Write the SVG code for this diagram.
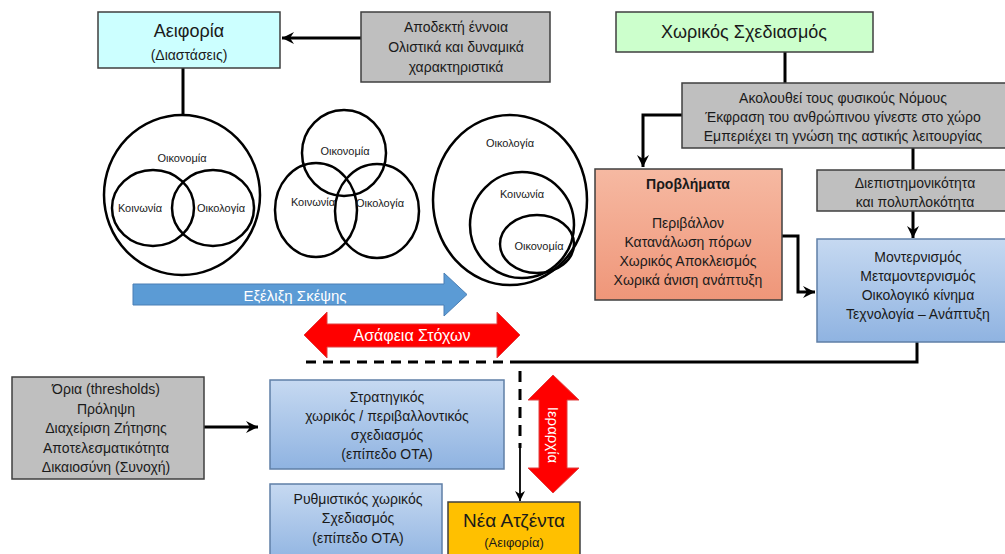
<svg xmlns="http://www.w3.org/2000/svg" width="1005" height="554" viewBox="0 0 1005 554">
<defs>
<linearGradient id="gBlue" x1="0" y1="0" x2="0" y2="1"><stop offset="0" stop-color="#c6d9f1"/><stop offset="1" stop-color="#8fb3e1"/></linearGradient>
<linearGradient id="gSalmon" x1="0" y1="0" x2="0" y2="1"><stop offset="0" stop-color="#f6b9a2"/><stop offset="1" stop-color="#ef9679"/></linearGradient>
<marker id="arr" markerUnits="userSpaceOnUse" markerWidth="14" markerHeight="14" refX="12" refY="6" orient="auto"><path d="M0,0 L12,6 L0,12 L4,6 Z" fill="#000"/></marker>
<marker id="arrS" markerUnits="userSpaceOnUse" markerWidth="12" markerHeight="12" refX="10" refY="5" orient="auto"><path d="M0,0 L10,5 L0,10 L3,5 Z" fill="#000"/></marker>
</defs>
<style>
text{font-family:"Liberation Sans",Arial,sans-serif;fill:#1a1a1a;text-anchor:middle}
.box{stroke:#3f3f3f;stroke-width:1.5}
.gray{fill:#bfbfbf}
.blue{fill:url(#gBlue);stroke:#5f7fa6}
.t14{font-size:14px}
.t11{font-size:11px}
.c{fill:none;stroke:#000;stroke-width:2.5}
.ln{fill:none;stroke:#000;stroke-width:3}
</style>
<rect width="1005" height="554" fill="#fff"/>

<g id="connectors">
<line class="ln" x1="361" y1="38" x2="282" y2="38" marker-end="url(#arr)"/>
<line class="ln" x1="183" y1="68" x2="183" y2="116"/>
<line class="ln" x1="785" y1="52" x2="785" y2="83"/>
<polyline class="ln" points="682,115 643,115 643,167" marker-end="url(#arr)"/>
<line class="ln" x1="913" y1="148" x2="913" y2="170"/>
<line class="ln" x1="913" y1="211" x2="913" y2="238" marker-end="url(#arr)"/>
<polyline class="ln" points="782,236 798,236 798,292 815,292" marker-end="url(#arr)"/>
<polyline class="ln" points="917,342 917,362 520,362"/>
<line class="ln" x1="520" y1="362" x2="304" y2="362" stroke-dasharray="10,7"/>
<line class="ln" x1="520" y1="371" x2="520" y2="448" stroke-dasharray="11,7"/>
<line x1="520" y1="446" x2="520" y2="501" stroke="#000" stroke-width="1.8" marker-end="url(#arrS)"/>
<line class="ln" x1="204" y1="427" x2="258" y2="427" marker-end="url(#arr)"/>
</g>

<g id="aeiforia">
<rect class="box" x="98" y="12" width="182" height="56" fill="#ccffff"/>
<text x="189" y="37" style="font-size:18px">Αειφορία</text>
<text x="189" y="60" style="font-size:14px">(Διαστάσεις)</text>
</g>

<g id="apodekti">
<rect class="box gray" x="361" y="12" width="189" height="70"/>
<text class="t14" x="456" y="32">Αποδεκτή έννοια</text>
<text class="t14" x="456" y="52">Ολιστικά και δυναμικά</text>
<text class="t14" x="456" y="72">χαρακτηριστικά</text>
</g>

<g id="xorikos">
<rect class="box" x="616" y="12" width="257" height="40" fill="#ccffcc"/>
<text x="744" y="38" style="font-size:18px">Χωρικός Σχεδιασμός</text>
</g>

<g id="akolouthei">
<rect class="box gray" x="682" y="83" width="324" height="65"/>
<text class="t14" x="843" y="103">Ακολουθεί τους φυσικούς Νόμους</text>
<text class="t14" x="843" y="122">Έκφραση του ανθρώπινου γίνεστε στο χώρο</text>
<text class="t14" x="843" y="141">Εμπεριέχει τη γνώση της αστικής λειτουργίας</text>
</g>

<g id="provlimata">
<rect class="box" x="595" y="169" width="187" height="131" fill="url(#gSalmon)"/>
<text class="t14" x="688" y="189" style="font-weight:bold">Προβλήματα</text>
<text class="t14" x="688" y="228">Περιβάλλον</text>
<text class="t14" x="688" y="247">Κατανάλωση πόρων</text>
<text class="t14" x="688" y="266">Χωρικός Αποκλεισμός</text>
<text class="t14" x="688" y="285">Χωρικά άνιση ανάπτυξη</text>
</g>

<g id="diepistimonikotita">
<rect class="box gray" x="817" y="170" width="189" height="41"/>
<text class="t14" x="915" y="188">Διεπιστημονικότητα</text>
<text class="t14" x="915" y="207">και πολυπλοκότητα</text>
</g>

<g id="monternismos">
<rect class="box blue" x="817" y="239" width="189" height="103"/>
<text class="t14" x="918" y="262">Μοντερνισμός</text>
<text class="t14" x="918" y="281">Μεταμοντερνισμός</text>
<text class="t14" x="918" y="300">Οικολογικό κίνημα</text>
<text class="t14" x="918" y="319">Τεχνολογία – Ανάπτυξη</text>
</g>

<g id="circles1">
<ellipse class="c" cx="182" cy="195" rx="78" ry="80"/>
<ellipse class="c" cx="153" cy="208" rx="41" ry="38"/>
<ellipse class="c" cx="213" cy="208" rx="41" ry="38"/>
<text class="t11" x="182" y="162">Οικονομία</text>
<text class="t11" x="140" y="212">Κοινωνία</text>
<text class="t11" x="221" y="212">Οικολογία</text>
</g>

<g id="circles2">
<ellipse class="c" cx="344" cy="153" rx="42" ry="43"/>
<ellipse class="c" cx="316" cy="210" rx="41" ry="47"/>
<ellipse class="c" cx="377" cy="211" rx="42" ry="47"/>
<text class="t11" x="345" y="155">Οικονομία</text>
<text class="t11" x="313" y="206">Κοινωνία</text>
<text class="t11" x="380" y="207">Οικολογία</text>
</g>

<g id="circles3">
<ellipse class="c" cx="510" cy="200" rx="77" ry="85"/>
<ellipse class="c" cx="522" cy="225" rx="52" ry="53"/>
<ellipse class="c" cx="537" cy="244" rx="37" ry="29"/>
<text class="t11" x="510" y="147">Οικολογία</text>
<text class="t11" x="522" y="198">Κοινωνία</text>
<text class="t11" x="539" y="250">Οικονομία</text>
</g>

<g id="exelixi">
<polygon points="133,284 444,284 444,273 467,294.5 444,316 444,305 133,305" fill="#5b9bd5" stroke="#4a7fb5" stroke-width="1"/>
<text x="295" y="301" style="font-size:15px;fill:#fff">Εξέλιξη Σκέψης</text>
</g>

<g id="asafeia">
<polygon points="304,335 327,312 327,324 497,324 497,312 520,335 497,358 497,347 327,347 327,358" fill="#ff0000" stroke="#e04040" stroke-width="1"/>
<text x="412" y="341" style="font-size:16px;fill:#fff">Ασάφεια Στόχων</text>
</g>

<g id="ierarxia">
<polygon points="553,375 579,400 567,400 567,468 579,468 553,493 528,468 539,468 539,400 528,400" fill="#ff0000" stroke="#e04040" stroke-width="1"/>
<text transform="translate(548,435) rotate(90)" x="0" y="0" style="font-size:15px;fill:#fff">Ιεραρχία</text>
</g>

<g id="oria">
<rect class="box gray" x="12" y="377" width="192" height="102"/>
<text class="t14" x="106" y="394">Όρια (thresholds)</text>
<text class="t14" x="106" y="414">Πρόληψη</text>
<text class="t14" x="106" y="433">Διαχείριση Ζήτησης</text>
<text class="t14" x="106" y="453">Αποτελεσματικότητα</text>
<text class="t14" x="106" y="472">Δικαιοσύνη (Συνοχή)</text>
</g>

<g id="stratigikos">
<rect class="box blue" x="270" y="380" width="234" height="89"/>
<text class="t14" x="387" y="402">Στρατηγικός</text>
<text class="t14" x="387" y="421">χωρικός / περιβαλλοντικός</text>
<text class="t14" x="387" y="440">σχεδιασμός</text>
<text class="t14" x="387" y="459">(επίπεδο ΟΤΑ)</text>
</g>

<g id="rythmistikos">
<rect class="box blue" x="270" y="484" width="172" height="80"/>
<text class="t14" x="358" y="504">Ρυθμιστικός χωρικός</text>
<text class="t14" x="358" y="523">Σχεδιασμός</text>
<text class="t14" x="358" y="543">(επίπεδο ΟΤΑ)</text>
</g>

<g id="nea-atzenta">
<rect class="box" x="448" y="502" width="132" height="62" fill="#ffc000" stroke="#7f6000"/>
<text x="514" y="527" style="font-size:19px">Νέα Ατζέντα</text>
<text x="514" y="547" style="font-size:13px">(Αειφορία)</text>
</g>
</svg>
